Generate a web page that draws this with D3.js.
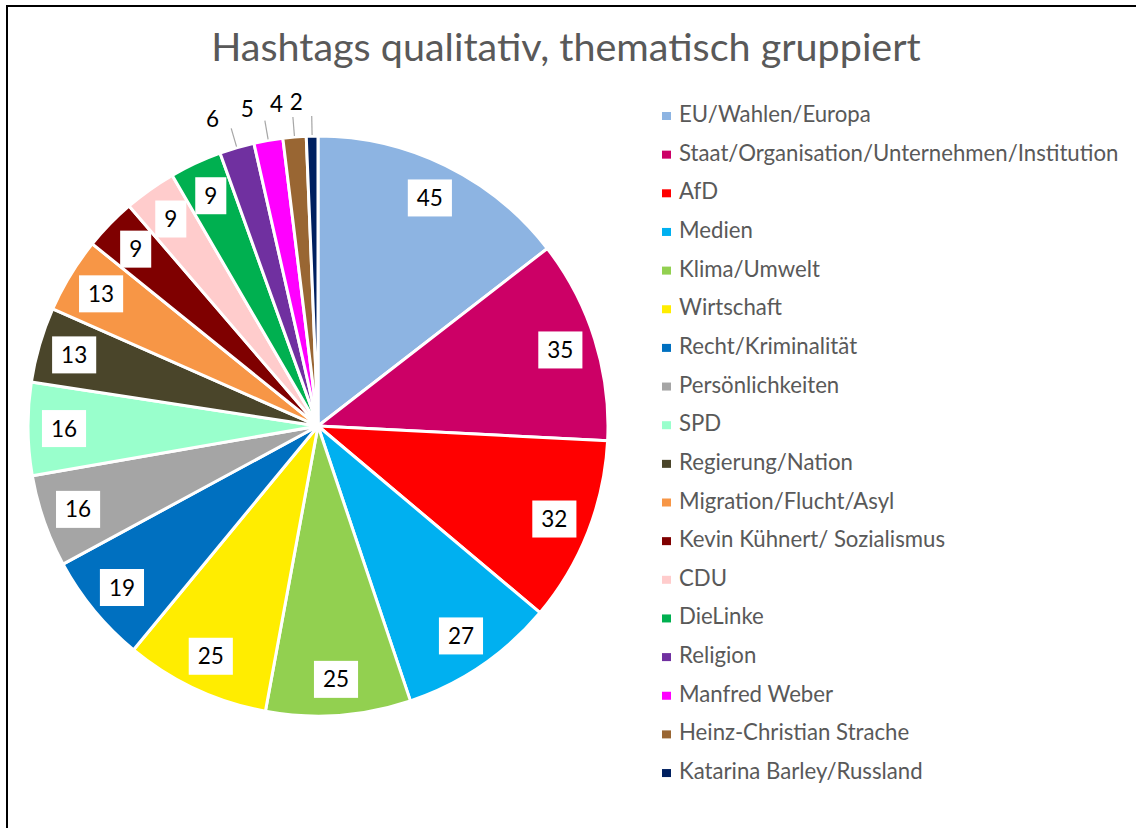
<!DOCTYPE html>
<html>
<head>
<meta charset="utf-8">
<script src="https://cdn.jsdelivr.net/npm/d3@7"></script>
<style>
  html, body { margin: 0; padding: 0; background: #fff; }
  svg { display: block; }
</style>
</head>
<body>
<svg id="chart" width="1136" height="828"></svg>
<script>
const title = "Hashtags qualitativ, thematisch gruppiert";
const categories = [
  "EU/Wahlen/Europa",
  "Staat/Organisation/Unternehmen/Institution",
  "AfD",
  "Medien",
  "Klima/Umwelt",
  "Wirtschaft",
  "Recht/Kriminalität",
  "Persönlichkeiten",
  "SPD",
  "Regierung/Nation",
  "Migration/Flucht/Asyl",
  "Kevin Kühnert/ Sozialismus",
  "CDU",
  "DieLinke",
  "Religion",
  "Manfred Weber",
  "Heinz-Christian Strache",
  "Katarina Barley/Russland"
];
const values = [45, 35, 32, 27, 25, 25, 19, 16, 16, 13, 13, 9, 9, 9, 6, 5, 4, 2];
const colors = [
  "#8DB4E2", "#CC0066", "#FF0000", "#00B0F0", "#92D050", "#FFED00",
  "#0070C0", "#A5A5A5", "#99FFCC", "#4A452A", "#F79646", "#7F0000",
  "#FFCCCC", "#00B050", "#7030A0", "#FF00FF", "#996633", "#002060"
];

const svg = d3.select("#chart");
const FONT = "Lato, 'Open Sans', sans-serif";

// frame
svg.append("rect")
  .attr("x", 7).attr("y", 6)
  .attr("width", 1200).attr("height", 900)
  .attr("fill", "none").attr("stroke", "#000").attr("stroke-width", 2);

// title
svg.append("text")
  .attr("x", 566).attr("y", 61)
  .attr("text-anchor", "middle")
  .attr("font-family", FONT)
  .attr("font-size", 39.5)
  .attr("fill", "#595959")
  .text(title);

const cx = 318, cy = 426, R = 290;
const data = categories.map((c, i) => ({ name: c, value: values[i], color: colors[i] }));
const pie = d3.pie().sort(null).value(d => d.value);
const arcs = pie(data);
const arc = d3.arc().innerRadius(0).outerRadius(R);

const g = svg.append("g").attr("transform", `translate(${cx},${cy})`);
g.selectAll("path.slice")
  .data(arcs)
  .join("path")
  .attr("class", "slice")
  .attr("d", arc)
  .attr("fill", d => d.data.color)
  .attr("stroke", "#fff")
  .attr("stroke-width", 3)
  .attr("stroke-linejoin", "round");

// labels
const inner = arcs.filter(d => d.data.value >= 9);
const outer = arcs.filter(d => d.data.value < 9);
const labelArc = d3.arc().innerRadius(254).outerRadius(254);

const lg = g.selectAll("g.lbl").data(inner).join("g")
  .attr("class", "lbl")
  .attr("transform", d => `translate(${labelArc.centroid(d)})`);
lg.each(function(d) {
  const sel = d3.select(this);
  const t = sel.append("text")
    .attr("text-anchor", "middle")
    .attr("dy", "0.36em")
    .attr("font-family", FONT)
    .attr("font-size", 22.5)
    .attr("fill", "#000")
    .text(d.data.value);
  const w = t.node().getComputedTextLength();
  sel.insert("rect", "text")
    .attr("x", -w / 2 - 9).attr("y", -18.5)
    .attr("width", w + 18).attr("height", 37)
    .attr("fill", "#fff");
});

// outside labels with leader lines
outer.forEach(d => {
  const a = (d.startAngle + d.endAngle) / 2;
  const r1 = R + 1, r2 = R + 20;
  g.append("line")
    .attr("x1", Math.sin(a) * r1).attr("y1", -Math.cos(a) * r1)
    .attr("x2", Math.sin(a) * r2).attr("y2", -Math.cos(a) * r2)
    .attr("stroke", "#A6A6A6").attr("stroke-width", 1.2);
  const la = a - 0.047, lr = 325;
  g.append("text")
    .attr("x", Math.sin(la) * lr).attr("y", -Math.cos(la) * lr)
    .attr("text-anchor", "middle")
    .attr("dy", "0.36em")
    .attr("font-family", FONT)
    .attr("font-size", 22.5)
    .attr("fill", "#000")
    .text(d.data.value);
});

// legend
const y0 = 122, step = 38.65;
const leg = svg.append("g");
const items = leg.selectAll("g").data(data).join("g")
  .attr("transform", (d, i) => `translate(0,${y0 + i * step})`);
items.append("rect")
  .attr("x", 662).attr("y", -10)
  .attr("width", 9).attr("height", 8)
  .attr("fill", d => d.color);
items.append("text")
  .attr("x", 679).attr("y", 0)
  .attr("font-family", FONT)
  .attr("font-size", 22.2)
  .attr("fill", "#595959")
  .text(d => d.name);
</script>
</body>
</html>
